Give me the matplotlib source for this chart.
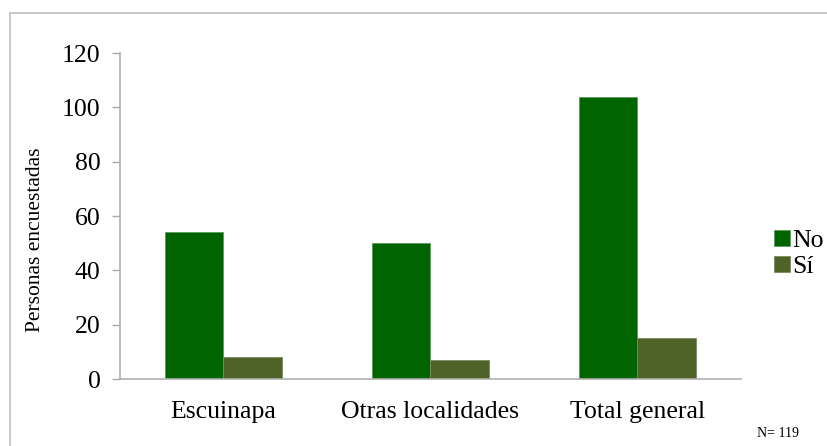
import numpy as np
import matplotlib.pyplot as plt
from matplotlib.patches import Rectangle

# data
categories = ['Escuinapa', 'Otras localidades', 'Total general']
no_vals = [54, 50, 104]
si_vals = [8, 7, 15]
series_names = ['No', 'Sí']

plt.rcParams['font.family'] = ['Liberation Serif', 'DejaVu Serif']

fig = plt.figure(figsize=(8.27, 4.46), dpi=100)
ax = fig.add_axes([0.1451, 0.150, 0.7509, 0.731])

x = np.arange(len(categories))
w = 0.283
ax.bar(x - w / 2, no_vals, w, color='#006400', edgecolor='#5a9a5a', linewidth=0.6, label=series_names[0])
ax.bar(x + w / 2, si_vals, w, color='#4F6228', edgecolor='#7a8a60', linewidth=0.6, label=series_names[1])

ax.set_xlim(-0.5, 2.5)
ax.set_ylim(0, 120)
ax.set_yticks(range(0, 121, 20))
ax.set_xticks(x)
ax.set_xticklabels(categories, fontsize=18.5)
ax.tick_params(axis='y', labelsize=18.5, color='#aaaaaa', length=6, width=1, pad=8)
ax.tick_params(axis='x', length=0, pad=16)
for s in ['top', 'right']:
    ax.spines[s].set_visible(False)
for s in ['left', 'bottom']:
    ax.spines[s].set_color('#b0b0b0')
    ax.spines[s].set_linewidth(1.2)
ax.set_ylabel('Personas encuestadas', fontsize=15.5)
ax.yaxis.set_label_coords(-0.121, 0.426)

fig.legend(loc='center left', bbox_to_anchor=(0.93, 0.43), frameon=False,
           fontsize=18.5, handlelength=0.6, handleheight=0.6, handletextpad=0.12,
           labelspacing=0.15, borderaxespad=0, borderpad=0.2)

fig.text(0.915, 0.02, 'N= 119', fontsize=10)

# outer border of the chart area
fig.patches.append(Rectangle((10 / 827, -0.1), 1.2, 1 - 13 / 446 + 0.1,
                             transform=fig.transFigure, fill=False,
                             edgecolor='#bfbfbf', linewidth=1.2))

plt.savefig('out.png', dpi=100)
